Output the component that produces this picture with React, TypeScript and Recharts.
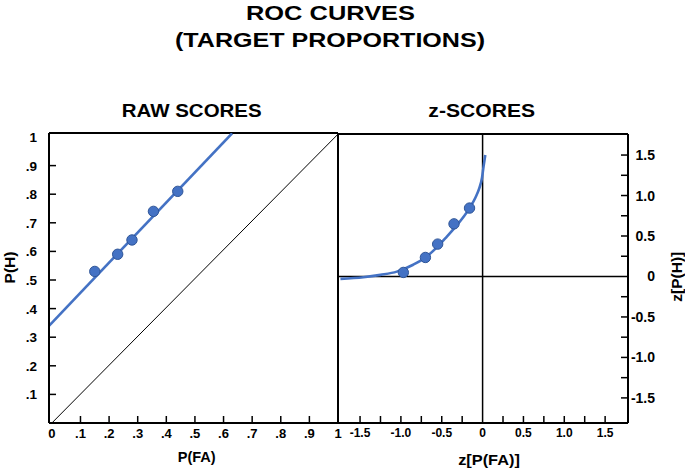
import React from "react";
import {
  ComposedChart,
  Line,
  Scatter,
  XAxis,
  YAxis,
  ReferenceLine,
} from "recharts";

// ---- Data ----
const RAW_FA = [0.15, 0.23, 0.28, 0.355, 0.44];
const RAW_H = [0.53, 0.59, 0.64, 0.74, 0.81];
const RAW_FIT_FA = [-0.01, 0.63];
const RAW_FIT_H = [0.34, 1.013];
const CHANCE_FA = [0, 1];
const CHANCE_H = [0, 1.01];

const Z_FA = [-0.97, -0.7, -0.55, -0.35, -0.16];
const Z_H = [0.05, 0.235, 0.4, 0.65, 0.845];
const Z_CURVE_X = [-1.74, -1.46, -1.25, -1.05, -0.85, -0.7, -0.56, -0.44, -0.335, -0.23, -0.15, -0.09, -0.04, -0.007, 0.012, 0.033];
const Z_CURVE_Y = [-0.03, -0.01, 0.02, 0.06, 0.145, 0.235, 0.36, 0.49, 0.61, 0.74, 0.86, 0.97, 1.09, 1.22, 1.36, 1.5];

const RAW_X_TICKS = [0, 0.1, 0.2, 0.3, 0.4, 0.5, 0.6, 0.7, 0.8, 0.9, 1];
const RAW_Y_TICKS = [0.1, 0.2, 0.3, 0.4, 0.5, 0.6, 0.7, 0.8, 0.9, 1];
const Z_TICKS = [-1.5, -1.25, -1, -0.75, -0.5, -0.25, 0, 0.25, 0.5, 0.75, 1, 1.25, 1.5];

const TITLE_LINES = ["ROC CURVES", "(TARGET PROPORTIONS)"];
const LEFT_TITLE = "RAW SCORES";
const RIGHT_TITLE = "z-SCORES";
const LEFT_X_LABEL = "P(FA)";
const LEFT_Y_LABEL = "P(H)";
const RIGHT_X_LABEL = "z[P(FA)]";
const RIGHT_Y_LABEL = "z[P(H)]";

// ---- Domains ----
const LX: [number, number] = [-0.01, 1];
const LY: [number, number] = [0, 1.014];
const RX: [number, number] = [-1.77, 1.78];
const RY: [number, number] = [-1.81, 1.76];

const rawPoints = RAW_FA.map((x, i) => ({ x, y: RAW_H[i] }));
const rawFit = RAW_FIT_FA.map((x, i) => ({ x, y: RAW_FIT_H[i] }));
const chance = CHANCE_FA.map((x, i) => ({ x, y: CHANCE_H[i] }));
const zPoints = Z_FA.map((x, i) => ({ x, y: Z_H[i] }));
const zCurve = Z_CURVE_X.map((x, i) => ({ x, y: Z_CURVE_Y[i] }));

const FF = '"Liberation Sans", Arial, Helvetica, sans-serif';
const BLUE = "#4472C4";
const DARK_BLUE = "#2F5597";

const fmtRaw = (v: number) => {
  if (Math.abs(v) < 1e-9) return "0";
  if (Math.abs(v - 1) < 1e-9) return "1";
  return "." + Math.round(v * 10);
};
const fmtZ = (v: number) => (Math.abs(v) < 1e-9 ? "0" : v.toFixed(1));
const isMajor = (v: number) => Math.abs(v * 2 - Math.round(v * 2)) < 1e-9;

const LeftXTick = (props: any) => {
  const { x, y, payload } = props;
  const v = payload.value;
  const inner = v > 0.001 && v < 0.999;
  return (
    <g>
      {inner && <line x1={x} x2={x} y1={y} y2={y - 7} stroke="#000" strokeWidth={1.5} />}
      <text x={x} y={y + 15} textAnchor="middle" fontSize={13} fontWeight="bold" fontFamily={FF} fill="#000">
        {fmtRaw(v)}
      </text>
    </g>
  );
};

const LeftYTick = (props: any) => {
  const { x, y, payload } = props;
  const v = payload.value;
  const inner = v < 0.999;
  return (
    <g>
      {inner && <line x1={x} x2={x + 7} y1={y} y2={y} stroke="#000" strokeWidth={1.5} />}
      <text x={x - 12} y={y + 5} textAnchor="end" fontSize={13.5} fontWeight="bold" fontFamily={FF} fill="#000">
        {fmtRaw(v)}
      </text>
    </g>
  );
};

const RightXTick = (props: any) => {
  const { x, y, payload } = props;
  const v = payload.value;
  const nonZero = Math.abs(v) > 1e-9;
  return (
    <g>
      {nonZero && <line x1={x} x2={x} y1={y} y2={y - 7} stroke="#000" strokeWidth={1.5} />}
      {isMajor(v) && (
        <text x={x} y={y + 14} textAnchor="middle" fontSize={12} fontWeight="bold" fontFamily={FF} fill="#000">
          {fmtZ(v)}
        </text>
      )}
    </g>
  );
};

const RightYTick = (props: any) => {
  const { x, y, payload } = props;
  const v = payload.value;
  const nonZero = Math.abs(v) > 1e-9;
  return (
    <g>
      {nonZero && <line x1={x} x2={x - 7} y1={y} y2={y} stroke="#000" strokeWidth={1.5} />}
      {isMajor(v) && (
        <text x={x + 27} y={y + 5} textAnchor="end" fontSize={14} fontWeight="bold" fontFamily={FF} fill="#000">
          {fmtZ(v)}
        </text>
      )}
    </g>
  );
};

const Dot = (props: any) => (
  <circle cx={props.cx} cy={props.cy} r={5.2} fill={BLUE} stroke={DARK_BLUE} strokeWidth={1} />
);

const axisLine = { stroke: "#000", strokeWidth: 2 };

const T = (p: { x: number; y: number; w: number; size: number; children: string; rotate?: boolean }) => (
  <text
    x={p.x}
    y={p.y}
    textAnchor="middle"
    fontSize={p.size}
    fontWeight="bold"
    fontFamily={FF}
    fill="#000"
    textLength={p.w}
    lengthAdjust="spacingAndGlyphs"
    dominantBaseline={p.rotate ? "central" : undefined}
    transform={p.rotate ? `rotate(-90 ${p.x} ${p.y})` : undefined}
  >
    {p.children}
  </text>
);

export default function App() {
  return (
    <div style={{ position: "absolute", left: 0, top: 0, width: 685, height: 474, background: "#fff" }}>
      <div style={{ position: "absolute", left: 0, top: 0 }}>
        <ComposedChart width={345} height={474} margin={{ top: 133, right: 7, bottom: 0, left: 0 }}>
          <XAxis
            type="number"
            dataKey="x"
            domain={LX}
            ticks={RAW_X_TICKS}
            tick={LeftXTick}
            tickLine={false}
            tickSize={0}
            tickMargin={0}
            interval={0}
            axisLine={axisLine}
            height={51}
            allowDataOverflow
          />
          <YAxis
            type="number"
            dataKey="y"
            domain={LY}
            ticks={RAW_Y_TICKS}
            tick={LeftYTick}
            tickLine={false}
            tickSize={0}
            tickMargin={0}
            interval={0}
            axisLine={axisLine}
            width={49}
            allowDataOverflow
          />
          <ReferenceLine y={LY[1]} stroke="#000" strokeWidth={2} />
          <ReferenceLine x={LX[1]} stroke="#000" strokeWidth={2} />
          <Line data={chance} dataKey="y" stroke="#000" strokeWidth={1} dot={false} isAnimationActive={false} />
          <Line data={rawFit} dataKey="y" stroke={BLUE} strokeWidth={2.6} dot={false} isAnimationActive={false} />
          <Scatter data={rawPoints} dataKey="y" shape={Dot} isAnimationActive={false} />
        </ComposedChart>
      </div>
      <div style={{ position: "absolute", left: 300, top: 0 }}>
        <ComposedChart width={385} height={474} margin={{ top: 134, right: 0, bottom: 0, left: 38 }}>
          <XAxis
            type="number"
            dataKey="x"
            domain={RX}
            ticks={Z_TICKS}
            tick={RightXTick}
            tickLine={false}
            tickSize={0}
            tickMargin={0}
            interval={0}
            axisLine={axisLine}
            height={51}
            allowDataOverflow
          />
          <YAxis
            type="number"
            dataKey="y"
            orientation="right"
            domain={RY}
            ticks={Z_TICKS}
            tick={RightYTick}
            tickLine={false}
            tickSize={0}
            tickMargin={0}
            interval={0}
            axisLine={axisLine}
            width={57}
            allowDataOverflow
          />
          <ReferenceLine y={RY[1]} stroke="#000" strokeWidth={2} />
          <ReferenceLine x={RX[0]} stroke="#000" strokeWidth={2} />
          <ReferenceLine x={0} stroke="#000" strokeWidth={1.5} />
          <ReferenceLine y={0} stroke="#000" strokeWidth={1.5} />
          <Line data={zCurve} dataKey="y" type="monotone" stroke={BLUE} strokeWidth={2.6} dot={false} isAnimationActive={false} />
          <Scatter data={zPoints} dataKey="y" shape={Dot} isAnimationActive={false} />
        </ComposedChart>
      </div>
      <svg width={685} height={474} style={{ position: "absolute", left: 0, top: 0, pointerEvents: "none" }}>
        <T x={330.5} y={20} w={169} size={20}>{TITLE_LINES[0]}</T>
        <T x={330} y={47} w={310} size={20}>{TITLE_LINES[1]}</T>
        <T x={191.7} y={116.7} w={140} size={18}>{LEFT_TITLE}</T>
        <T x={481.7} y={116.7} w={106.7} size={18}>{RIGHT_TITLE}</T>
        <T x={196.7} y={461.7} w={38} size={15}>{LEFT_X_LABEL}</T>
        <T x={489} y={465} w={61.7} size={15}>{RIGHT_X_LABEL}</T>
        <T x={9} y={267.5} w={32} size={15.5} rotate>{LEFT_Y_LABEL}</T>
        <T x={676.5} y={276.7} w={50} size={15} rotate>{RIGHT_Y_LABEL}</T>
      </svg>
    </div>
  );
}
